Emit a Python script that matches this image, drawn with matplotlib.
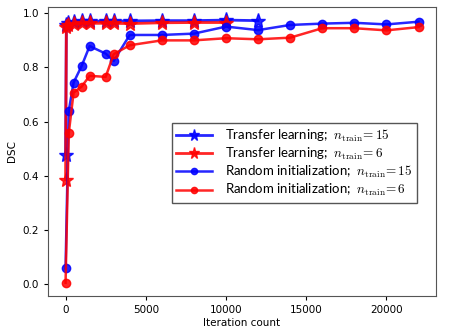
import matplotlib
matplotlib.use("Agg")
import matplotlib.pyplot as plt

plt.rcParams['mathtext.fontset'] = 'cm'

tl_x15 = [0, 50, 150, 500, 1000, 1500, 2500, 3000, 4000, 6000, 8000, 10000, 12000]
tl_y15 = [0.477, 0.958, 0.965, 0.968, 0.970, 0.970, 0.972, 0.971, 0.972, 0.973, 0.973, 0.975, 0.973]
tl_x6 = [0, 50, 150, 500, 1000, 1500, 2500, 3000, 4000, 6000, 8000, 10000]
tl_y6 = [0.385, 0.950, 0.958, 0.962, 0.963, 0.963, 0.963, 0.963, 0.962, 0.965, 0.966, 0.966]

ri_x = [0, 200, 500, 1000, 1500, 2500, 3000, 4000, 6000, 8000, 10000, 12000, 14000, 16000, 18000, 20000, 22000]
ri_y15 = [0.057, 0.640, 0.744, 0.805, 0.879, 0.851, 0.824, 0.920, 0.920, 0.925, 0.951, 0.938, 0.957, 0.962, 0.965, 0.959, 0.969]
ri_y6 = [0.004, 0.557, 0.707, 0.729, 0.769, 0.765, 0.849, 0.882, 0.900, 0.900, 0.908, 0.904, 0.910, 0.945, 0.945, 0.937, 0.949]

fig = plt.figure(figsize=(4.52, 3.31), dpi=100)
ax = fig.add_axes([0.106, 0.106, 0.859, 0.873])

ax.plot(tl_x15, tl_y15, color='b', marker='*', markersize=11, lw=2, alpha=0.85,
        label=r'Transfer learning;  $n_{\rm train}\!= 15$')
ax.plot(tl_x6, tl_y6, color='r', marker='*', markersize=11, lw=2, alpha=0.85,
        label=r'Transfer learning;  $n_{\rm train}\!= 6$')
ax.plot(ri_x, ri_y15, color='b', marker='o', markersize=6, lw=1.8, alpha=0.85,
        label=r'Random initialization;  $n_{\rm train}\!= 15$')
ax.plot(ri_x, ri_y6, color='r', marker='o', markersize=6, lw=1.8, alpha=0.85,
        label=r'Random initialization;  $n_{\rm train}\!= 6$')

ax.set_xticks([0, 5000, 10000, 15000, 20000])
ax.set_yticks([0.0, 0.2, 0.4, 0.6, 0.8, 1.0])
ax.tick_params(labelsize=7.5, length=3)
ax.set_xlabel('Iteration count', fontsize=7.5, labelpad=2)
ax.set_ylabel('DSC', fontsize=7.5, labelpad=4)

leg = ax.legend(loc='center right', bbox_to_anchor=(0.968, 0.46),
                prop={'family': 'Lato', 'size': 9.5},
                fancybox=False, edgecolor='#555555', framealpha=1,
                handlelength=2.7, borderpad=0.35, labelspacing=0.15, handletextpad=1.0,
                markerscale=0.75)
leg.get_frame().set_linewidth(1.0)
for sp in ax.spines.values():
    sp.set_color('#555555')

fig.savefig('out.png', dpi=100)
